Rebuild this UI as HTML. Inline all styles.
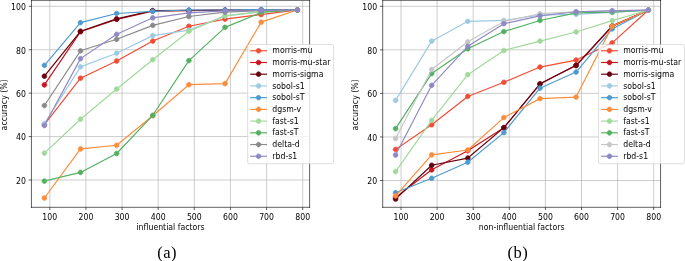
<!DOCTYPE html>
<html><head><meta charset="utf-8"><title>accuracy plots</title>
<style>
html,body{margin:0;padding:0;background:#fff;}
body{width:685px;height:261px;overflow:hidden;position:relative;}
svg{position:absolute;left:0;top:0;display:block;}
</style></head><body>
<svg width="685" height="261" viewBox="0 0 685 261" version="1.1">
<defs>
<style type="text/css">*{stroke-linejoin: round; stroke-linecap: butt}</style>
</defs>
<g id="figure_1">
<g id="patch_1">
<path d="M 0 261 L 685 261 L 685 0 L 0 0 z
" style="fill: #ffffff"/>
</g>
<g id="axes_1">
<g id="patch_2">
<path d="M 31.45 207.3 L 309.6 207.3 L 309.6 0.35 L 31.45 0.35 z
" style="fill: #ffffff"/>
</g>
<g id="matplotlib.axis_1">
<g id="xtick_1">
<g id="line2d_1">
<path d="M 49.8 207.3 L 49.8 0.35 " clip-path="url(#p76b166e8db)" style="fill: none; stroke: #b0b0b0; stroke-width: 0.624; stroke-linecap: square"/>
</g>
<g id="line2d_2">
<defs>
<path id="mf17a28b8bb" d="M 0 0 L 0 2.73 " style="stroke: #000000; stroke-width: 0.624"/>
</defs>
<g>
<use href="#mf17a28b8bb" x="49.8" y="207.3" style="stroke: #000000; stroke-width: 0.624"/>
</g>
</g>
<g id="text_1">
<text style="font-size: 7.8px; font-family: 'DejaVu Sans', 'Liberation Sans', sans-serif; text-anchor: middle" transform="translate(49.80 219.54) scale(1 1.1)">100</text>
</g>
</g>
<g id="xtick_2">
<g id="line2d_3">
<path d="M 85.928571 207.3 L 85.928571 0.35 " clip-path="url(#p76b166e8db)" style="fill: none; stroke: #b0b0b0; stroke-width: 0.624; stroke-linecap: square"/>
</g>
<g id="line2d_4">
<g>
<use href="#mf17a28b8bb" x="85.928571" y="207.3" style="stroke: #000000; stroke-width: 0.624"/>
</g>
</g>
<g id="text_2">
<text style="font-size: 7.8px; font-family: 'DejaVu Sans', 'Liberation Sans', sans-serif; text-anchor: middle" transform="translate(85.93 219.54) scale(1 1.1)">200</text>
</g>
</g>
<g id="xtick_3">
<g id="line2d_5">
<path d="M 122.057143 207.3 L 122.057143 0.35 " clip-path="url(#p76b166e8db)" style="fill: none; stroke: #b0b0b0; stroke-width: 0.624; stroke-linecap: square"/>
</g>
<g id="line2d_6">
<g>
<use href="#mf17a28b8bb" x="122.057143" y="207.3" style="stroke: #000000; stroke-width: 0.624"/>
</g>
</g>
<g id="text_3">
<text style="font-size: 7.8px; font-family: 'DejaVu Sans', 'Liberation Sans', sans-serif; text-anchor: middle" transform="translate(122.06 219.54) scale(1 1.1)">300</text>
</g>
</g>
<g id="xtick_4">
<g id="line2d_7">
<path d="M 158.185714 207.3 L 158.185714 0.35 " clip-path="url(#p76b166e8db)" style="fill: none; stroke: #b0b0b0; stroke-width: 0.624; stroke-linecap: square"/>
</g>
<g id="line2d_8">
<g>
<use href="#mf17a28b8bb" x="158.185714" y="207.3" style="stroke: #000000; stroke-width: 0.624"/>
</g>
</g>
<g id="text_4">
<text style="font-size: 7.8px; font-family: 'DejaVu Sans', 'Liberation Sans', sans-serif; text-anchor: middle" transform="translate(158.19 219.54) scale(1 1.1)">400</text>
</g>
</g>
<g id="xtick_5">
<g id="line2d_9">
<path d="M 194.314286 207.3 L 194.314286 0.35 " clip-path="url(#p76b166e8db)" style="fill: none; stroke: #b0b0b0; stroke-width: 0.624; stroke-linecap: square"/>
</g>
<g id="line2d_10">
<g>
<use href="#mf17a28b8bb" x="194.314286" y="207.3" style="stroke: #000000; stroke-width: 0.624"/>
</g>
</g>
<g id="text_5">
<text style="font-size: 7.8px; font-family: 'DejaVu Sans', 'Liberation Sans', sans-serif; text-anchor: middle" transform="translate(194.31 219.54) scale(1 1.1)">500</text>
</g>
</g>
<g id="xtick_6">
<g id="line2d_11">
<path d="M 230.442857 207.3 L 230.442857 0.35 " clip-path="url(#p76b166e8db)" style="fill: none; stroke: #b0b0b0; stroke-width: 0.624; stroke-linecap: square"/>
</g>
<g id="line2d_12">
<g>
<use href="#mf17a28b8bb" x="230.442857" y="207.3" style="stroke: #000000; stroke-width: 0.624"/>
</g>
</g>
<g id="text_6">
<text style="font-size: 7.8px; font-family: 'DejaVu Sans', 'Liberation Sans', sans-serif; text-anchor: middle" transform="translate(230.44 219.54) scale(1 1.1)">600</text>
</g>
</g>
<g id="xtick_7">
<g id="line2d_13">
<path d="M 266.571429 207.3 L 266.571429 0.35 " clip-path="url(#p76b166e8db)" style="fill: none; stroke: #b0b0b0; stroke-width: 0.624; stroke-linecap: square"/>
</g>
<g id="line2d_14">
<g>
<use href="#mf17a28b8bb" x="266.571429" y="207.3" style="stroke: #000000; stroke-width: 0.624"/>
</g>
</g>
<g id="text_7">
<text style="font-size: 7.8px; font-family: 'DejaVu Sans', 'Liberation Sans', sans-serif; text-anchor: middle" transform="translate(266.57 219.54) scale(1 1.1)">700</text>
</g>
</g>
<g id="xtick_8">
<g id="line2d_15">
<path d="M 302.7 207.3 L 302.7 0.35 " clip-path="url(#p76b166e8db)" style="fill: none; stroke: #b0b0b0; stroke-width: 0.624; stroke-linecap: square"/>
</g>
<g id="line2d_16">
<g>
<use href="#mf17a28b8bb" x="302.7" y="207.3" style="stroke: #000000; stroke-width: 0.624"/>
</g>
</g>
<g id="text_8">
<text style="font-size: 7.8px; font-family: 'DejaVu Sans', 'Liberation Sans', sans-serif; text-anchor: middle" transform="translate(302.70 219.54) scale(1 1.1)">800</text>
</g>
</g>
<g id="text_9">
<text style="font-size: 7.8px; font-family: 'DejaVu Sans', 'Liberation Sans', sans-serif; text-anchor: middle" transform="translate(170.53 230.21) scale(1 1.1)">influential factors</text>
</g>
</g>
<g id="matplotlib.axis_2">
<g id="ytick_1">
<g id="line2d_17">
<path d="M 31.45 180 L 309.6 180 " clip-path="url(#p76b166e8db)" style="fill: none; stroke: #b0b0b0; stroke-width: 0.624; stroke-linecap: square"/>
</g>
<g id="line2d_18">
<defs>
<path id="m06048b6196" d="M 0 0 L -2.73 0 " style="stroke: #000000; stroke-width: 0.624"/>
</defs>
<g>
<use href="#m06048b6196" x="31.45" y="180" style="stroke: #000000; stroke-width: 0.624"/>
</g>
</g>
<g id="text_10">
<text style="font-size: 7.8px; font-family: 'DejaVu Sans', 'Liberation Sans', sans-serif; text-anchor: end" transform="translate(25.99 183.81) scale(1 1.1)">20</text>
</g>
</g>
<g id="ytick_2">
<g id="line2d_19">
<path d="M 31.45 136.575 L 309.6 136.575 " clip-path="url(#p76b166e8db)" style="fill: none; stroke: #b0b0b0; stroke-width: 0.624; stroke-linecap: square"/>
</g>
<g id="line2d_20">
<g>
<use href="#m06048b6196" x="31.45" y="136.575" style="stroke: #000000; stroke-width: 0.624"/>
</g>
</g>
<g id="text_11">
<text style="font-size: 7.8px; font-family: 'DejaVu Sans', 'Liberation Sans', sans-serif; text-anchor: end" transform="translate(25.99 140.39) scale(1 1.1)">40</text>
</g>
</g>
<g id="ytick_3">
<g id="line2d_21">
<path d="M 31.45 93.15 L 309.6 93.15 " clip-path="url(#p76b166e8db)" style="fill: none; stroke: #b0b0b0; stroke-width: 0.624; stroke-linecap: square"/>
</g>
<g id="line2d_22">
<g>
<use href="#m06048b6196" x="31.45" y="93.15" style="stroke: #000000; stroke-width: 0.624"/>
</g>
</g>
<g id="text_12">
<text style="font-size: 7.8px; font-family: 'DejaVu Sans', 'Liberation Sans', sans-serif; text-anchor: end" transform="translate(25.99 96.96) scale(1 1.1)">60</text>
</g>
</g>
<g id="ytick_4">
<g id="line2d_23">
<path d="M 31.45 49.725 L 309.6 49.725 " clip-path="url(#p76b166e8db)" style="fill: none; stroke: #b0b0b0; stroke-width: 0.624; stroke-linecap: square"/>
</g>
<g id="line2d_24">
<g>
<use href="#m06048b6196" x="31.45" y="49.725" style="stroke: #000000; stroke-width: 0.624"/>
</g>
</g>
<g id="text_13">
<text style="font-size: 7.8px; font-family: 'DejaVu Sans', 'Liberation Sans', sans-serif; text-anchor: end" transform="translate(25.99 53.54) scale(1 1.1)">80</text>
</g>
</g>
<g id="ytick_5">
<g id="line2d_25">
<path d="M 31.45 6.3 L 309.6 6.3 " clip-path="url(#p76b166e8db)" style="fill: none; stroke: #b0b0b0; stroke-width: 0.624; stroke-linecap: square"/>
</g>
<g id="line2d_26">
<g>
<use href="#m06048b6196" x="31.45" y="6.3" style="stroke: #000000; stroke-width: 0.624"/>
</g>
</g>
<g id="text_14">
<text style="font-size: 7.8px; font-family: 'DejaVu Sans', 'Liberation Sans', sans-serif; text-anchor: end" transform="translate(25.99 10.11) scale(1 1.1)">100</text>
</g>
</g>
<g id="text_15">
<text style="font-size: 7.8px; font-family: 'DejaVu Sans', 'Liberation Sans', sans-serif; text-anchor: middle" transform="translate(6.86 104.83) rotate(-90) scale(1 1.1)">accuracy (%)</text>
</g>
</g>
<g id="line2d_27">
<path d="M 44.380714 124.633125 L 80.509286 78.168375 L 116.637857 61.0155 L 152.766429 41.04 L 188.895 26.2755 L 225.023571 19.110375 L 261.152143 14.55075 L 297.280714 9.991125 " clip-path="url(#p76b166e8db)" style="fill: none; stroke: #f34c36; stroke-width: 1.17; stroke-linecap: square"/>
<defs>
<path id="mfd70a485a8" d="M 0 2.34 C 0.620575 2.34 1.215817 2.093443 1.65463 1.65463 C 2.093443 1.215817 2.34 0.620575 2.34 0 C 2.34 -0.620575 2.093443 -1.215817 1.65463 -1.65463 C 1.215817 -2.093443 0.620575 -2.34 0 -2.34 C -0.620575 -2.34 -1.215817 -2.093443 -1.65463 -1.65463 C -2.093443 -1.215817 -2.34 -0.620575 -2.34 0 C -2.34 0.620575 -2.093443 1.215817 -1.65463 1.65463 C -1.215817 2.093443 -0.620575 2.34 0 2.34 z
" style="stroke: #f34c36; stroke-width: 0.78"/>
</defs>
<g clip-path="url(#p76b166e8db)">
<use href="#mfd70a485a8" x="44.380714" y="124.633125" style="fill: #f34c36; stroke: #f34c36; stroke-width: 0.78"/>
<use href="#mfd70a485a8" x="80.509286" y="78.168375" style="fill: #f34c36; stroke: #f34c36; stroke-width: 0.78"/>
<use href="#mfd70a485a8" x="116.637857" y="61.0155" style="fill: #f34c36; stroke: #f34c36; stroke-width: 0.78"/>
<use href="#mfd70a485a8" x="152.766429" y="41.04" style="fill: #f34c36; stroke: #f34c36; stroke-width: 0.78"/>
<use href="#mfd70a485a8" x="188.895" y="26.2755" style="fill: #f34c36; stroke: #f34c36; stroke-width: 0.78"/>
<use href="#mfd70a485a8" x="225.023571" y="19.110375" style="fill: #f34c36; stroke: #f34c36; stroke-width: 0.78"/>
<use href="#mfd70a485a8" x="261.152143" y="14.55075" style="fill: #f34c36; stroke: #f34c36; stroke-width: 0.78"/>
<use href="#mfd70a485a8" x="297.280714" y="9.991125" style="fill: #f34c36; stroke: #f34c36; stroke-width: 0.78"/>
</g>
</g>
<g id="line2d_28">
<path d="M 44.380714 84.89925 L 80.509286 31.703625 L 116.637857 19.3275 L 152.766429 11.07675 L 188.895 10.6425 L 225.023571 10.20825 L 261.152143 9.991125 L 297.280714 9.991125 " clip-path="url(#p76b166e8db)" style="fill: none; stroke: #c8151e; stroke-width: 1.17; stroke-linecap: square"/>
<defs>
<path id="m19177e68ee" d="M 0 2.34 C 0.620575 2.34 1.215817 2.093443 1.65463 1.65463 C 2.093443 1.215817 2.34 0.620575 2.34 0 C 2.34 -0.620575 2.093443 -1.215817 1.65463 -1.65463 C 1.215817 -2.093443 0.620575 -2.34 0 -2.34 C -0.620575 -2.34 -1.215817 -2.093443 -1.65463 -1.65463 C -2.093443 -1.215817 -2.34 -0.620575 -2.34 0 C -2.34 0.620575 -2.093443 1.215817 -1.65463 1.65463 C -1.215817 2.093443 -0.620575 2.34 0 2.34 z
" style="stroke: #c8151e; stroke-width: 0.78"/>
</defs>
<g clip-path="url(#p76b166e8db)">
<use href="#m19177e68ee" x="44.380714" y="84.89925" style="fill: #c8151e; stroke: #c8151e; stroke-width: 0.78"/>
<use href="#m19177e68ee" x="80.509286" y="31.703625" style="fill: #c8151e; stroke: #c8151e; stroke-width: 0.78"/>
<use href="#m19177e68ee" x="116.637857" y="19.3275" style="fill: #c8151e; stroke: #c8151e; stroke-width: 0.78"/>
<use href="#m19177e68ee" x="152.766429" y="11.07675" style="fill: #c8151e; stroke: #c8151e; stroke-width: 0.78"/>
<use href="#m19177e68ee" x="188.895" y="10.6425" style="fill: #c8151e; stroke: #c8151e; stroke-width: 0.78"/>
<use href="#m19177e68ee" x="225.023571" y="10.20825" style="fill: #c8151e; stroke: #c8151e; stroke-width: 0.78"/>
<use href="#m19177e68ee" x="261.152143" y="9.991125" style="fill: #c8151e; stroke: #c8151e; stroke-width: 0.78"/>
<use href="#m19177e68ee" x="297.280714" y="9.991125" style="fill: #c8151e; stroke: #c8151e; stroke-width: 0.78"/>
</g>
</g>
<g id="line2d_29">
<path d="M 44.380714 76.21425 L 80.509286 31.269375 L 116.637857 18.89325 L 152.766429 10.6425 L 188.895 10.425375 L 225.023571 10.20825 L 261.152143 9.991125 L 297.280714 9.991125 " clip-path="url(#p76b166e8db)" style="fill: none; stroke: #67000d; stroke-width: 1.17; stroke-linecap: square"/>
<defs>
<path id="m08d0aabdd7" d="M 0 2.34 C 0.620575 2.34 1.215817 2.093443 1.65463 1.65463 C 2.093443 1.215817 2.34 0.620575 2.34 0 C 2.34 -0.620575 2.093443 -1.215817 1.65463 -1.65463 C 1.215817 -2.093443 0.620575 -2.34 0 -2.34 C -0.620575 -2.34 -1.215817 -2.093443 -1.65463 -1.65463 C -2.093443 -1.215817 -2.34 -0.620575 -2.34 0 C -2.34 0.620575 -2.093443 1.215817 -1.65463 1.65463 C -1.215817 2.093443 -0.620575 2.34 0 2.34 z
" style="stroke: #67000d; stroke-width: 0.78"/>
</defs>
<g clip-path="url(#p76b166e8db)">
<use href="#m08d0aabdd7" x="44.380714" y="76.21425" style="fill: #67000d; stroke: #67000d; stroke-width: 0.78"/>
<use href="#m08d0aabdd7" x="80.509286" y="31.269375" style="fill: #67000d; stroke: #67000d; stroke-width: 0.78"/>
<use href="#m08d0aabdd7" x="116.637857" y="18.89325" style="fill: #67000d; stroke: #67000d; stroke-width: 0.78"/>
<use href="#m08d0aabdd7" x="152.766429" y="10.6425" style="fill: #67000d; stroke: #67000d; stroke-width: 0.78"/>
<use href="#m08d0aabdd7" x="188.895" y="10.425375" style="fill: #67000d; stroke: #67000d; stroke-width: 0.78"/>
<use href="#m08d0aabdd7" x="225.023571" y="10.20825" style="fill: #67000d; stroke: #67000d; stroke-width: 0.78"/>
<use href="#m08d0aabdd7" x="261.152143" y="9.991125" style="fill: #67000d; stroke: #67000d; stroke-width: 0.78"/>
<use href="#m08d0aabdd7" x="297.280714" y="9.991125" style="fill: #67000d; stroke: #67000d; stroke-width: 0.78"/>
</g>
</g>
<g id="line2d_30">
<path d="M 44.380714 123.5475 L 80.509286 66.877875 L 116.637857 53.199 L 152.766429 35.611875 L 188.895 30.18375 L 225.023571 15.8535 L 261.152143 11.728125 L 297.280714 9.991125 " clip-path="url(#p76b166e8db)" style="fill: none; stroke: #9ecae1; stroke-width: 1.17; stroke-linecap: square"/>
<defs>
<path id="md240ce2daa" d="M 0 2.34 C 0.620575 2.34 1.215817 2.093443 1.65463 1.65463 C 2.093443 1.215817 2.34 0.620575 2.34 0 C 2.34 -0.620575 2.093443 -1.215817 1.65463 -1.65463 C 1.215817 -2.093443 0.620575 -2.34 0 -2.34 C -0.620575 -2.34 -1.215817 -2.093443 -1.65463 -1.65463 C -2.093443 -1.215817 -2.34 -0.620575 -2.34 0 C -2.34 0.620575 -2.093443 1.215817 -1.65463 1.65463 C -1.215817 2.093443 -0.620575 2.34 0 2.34 z
" style="stroke: #9ecae1; stroke-width: 0.78"/>
</defs>
<g clip-path="url(#p76b166e8db)">
<use href="#md240ce2daa" x="44.380714" y="123.5475" style="fill: #9ecae1; stroke: #9ecae1; stroke-width: 0.78"/>
<use href="#md240ce2daa" x="80.509286" y="66.877875" style="fill: #9ecae1; stroke: #9ecae1; stroke-width: 0.78"/>
<use href="#md240ce2daa" x="116.637857" y="53.199" style="fill: #9ecae1; stroke: #9ecae1; stroke-width: 0.78"/>
<use href="#md240ce2daa" x="152.766429" y="35.611875" style="fill: #9ecae1; stroke: #9ecae1; stroke-width: 0.78"/>
<use href="#md240ce2daa" x="188.895" y="30.18375" style="fill: #9ecae1; stroke: #9ecae1; stroke-width: 0.78"/>
<use href="#md240ce2daa" x="225.023571" y="15.8535" style="fill: #9ecae1; stroke: #9ecae1; stroke-width: 0.78"/>
<use href="#md240ce2daa" x="261.152143" y="11.728125" style="fill: #9ecae1; stroke: #9ecae1; stroke-width: 0.78"/>
<use href="#md240ce2daa" x="297.280714" y="9.991125" style="fill: #9ecae1; stroke: #9ecae1; stroke-width: 0.78"/>
</g>
</g>
<g id="line2d_31">
<path d="M 44.380714 65.358 L 80.509286 22.584375 L 116.637857 13.465125 L 152.766429 11.293875 L 188.895 9.991125 L 225.023571 9.991125 L 261.152143 9.556875 L 297.280714 9.991125 " clip-path="url(#p76b166e8db)" style="fill: none; stroke: #4f9bcf; stroke-width: 1.17; stroke-linecap: square"/>
<defs>
<path id="mb4e35021ed" d="M 0 2.34 C 0.620575 2.34 1.215817 2.093443 1.65463 1.65463 C 2.093443 1.215817 2.34 0.620575 2.34 0 C 2.34 -0.620575 2.093443 -1.215817 1.65463 -1.65463 C 1.215817 -2.093443 0.620575 -2.34 0 -2.34 C -0.620575 -2.34 -1.215817 -2.093443 -1.65463 -1.65463 C -2.093443 -1.215817 -2.34 -0.620575 -2.34 0 C -2.34 0.620575 -2.093443 1.215817 -1.65463 1.65463 C -1.215817 2.093443 -0.620575 2.34 0 2.34 z
" style="stroke: #4f9bcf; stroke-width: 0.78"/>
</defs>
<g clip-path="url(#p76b166e8db)">
<use href="#mb4e35021ed" x="44.380714" y="65.358" style="fill: #4f9bcf; stroke: #4f9bcf; stroke-width: 0.78"/>
<use href="#mb4e35021ed" x="80.509286" y="22.584375" style="fill: #4f9bcf; stroke: #4f9bcf; stroke-width: 0.78"/>
<use href="#mb4e35021ed" x="116.637857" y="13.465125" style="fill: #4f9bcf; stroke: #4f9bcf; stroke-width: 0.78"/>
<use href="#mb4e35021ed" x="152.766429" y="11.293875" style="fill: #4f9bcf; stroke: #4f9bcf; stroke-width: 0.78"/>
<use href="#mb4e35021ed" x="188.895" y="9.991125" style="fill: #4f9bcf; stroke: #4f9bcf; stroke-width: 0.78"/>
<use href="#mb4e35021ed" x="225.023571" y="9.991125" style="fill: #4f9bcf; stroke: #4f9bcf; stroke-width: 0.78"/>
<use href="#mb4e35021ed" x="261.152143" y="9.556875" style="fill: #4f9bcf; stroke: #4f9bcf; stroke-width: 0.78"/>
<use href="#mb4e35021ed" x="297.280714" y="9.991125" style="fill: #4f9bcf; stroke: #4f9bcf; stroke-width: 0.78"/>
</g>
</g>
<g id="line2d_32">
<path d="M 44.380714 198.021375 L 80.509286 148.951125 L 116.637857 145.26 L 152.766429 115.731 L 188.895 84.682125 L 225.023571 83.5965 L 261.152143 22.150125 L 297.280714 9.991125 " clip-path="url(#p76b166e8db)" style="fill: none; stroke: #fd8d3c; stroke-width: 1.17; stroke-linecap: square"/>
<defs>
<path id="m84660bfa3b" d="M 0 2.34 C 0.620575 2.34 1.215817 2.093443 1.65463 1.65463 C 2.093443 1.215817 2.34 0.620575 2.34 0 C 2.34 -0.620575 2.093443 -1.215817 1.65463 -1.65463 C 1.215817 -2.093443 0.620575 -2.34 0 -2.34 C -0.620575 -2.34 -1.215817 -2.093443 -1.65463 -1.65463 C -2.093443 -1.215817 -2.34 -0.620575 -2.34 0 C -2.34 0.620575 -2.093443 1.215817 -1.65463 1.65463 C -1.215817 2.093443 -0.620575 2.34 0 2.34 z
" style="stroke: #fd8d3c; stroke-width: 0.78"/>
</defs>
<g clip-path="url(#p76b166e8db)">
<use href="#m84660bfa3b" x="44.380714" y="198.021375" style="fill: #fd8d3c; stroke: #fd8d3c; stroke-width: 0.78"/>
<use href="#m84660bfa3b" x="80.509286" y="148.951125" style="fill: #fd8d3c; stroke: #fd8d3c; stroke-width: 0.78"/>
<use href="#m84660bfa3b" x="116.637857" y="145.26" style="fill: #fd8d3c; stroke: #fd8d3c; stroke-width: 0.78"/>
<use href="#m84660bfa3b" x="152.766429" y="115.731" style="fill: #fd8d3c; stroke: #fd8d3c; stroke-width: 0.78"/>
<use href="#m84660bfa3b" x="188.895" y="84.682125" style="fill: #fd8d3c; stroke: #fd8d3c; stroke-width: 0.78"/>
<use href="#m84660bfa3b" x="225.023571" y="83.5965" style="fill: #fd8d3c; stroke: #fd8d3c; stroke-width: 0.78"/>
<use href="#m84660bfa3b" x="261.152143" y="22.150125" style="fill: #fd8d3c; stroke: #fd8d3c; stroke-width: 0.78"/>
<use href="#m84660bfa3b" x="297.280714" y="9.991125" style="fill: #fd8d3c; stroke: #fd8d3c; stroke-width: 0.78"/>
</g>
</g>
<g id="line2d_33">
<path d="M 44.380714 153.0765 L 80.509286 119.205 L 116.637857 89.024625 L 152.766429 59.71275 L 188.895 31.269375 L 225.023571 15.8535 L 261.152143 11.728125 L 297.280714 9.991125 " clip-path="url(#p76b166e8db)" style="fill: none; stroke: #a1d99b; stroke-width: 1.17; stroke-linecap: square"/>
<defs>
<path id="m37b35b74b8" d="M 0 2.34 C 0.620575 2.34 1.215817 2.093443 1.65463 1.65463 C 2.093443 1.215817 2.34 0.620575 2.34 0 C 2.34 -0.620575 2.093443 -1.215817 1.65463 -1.65463 C 1.215817 -2.093443 0.620575 -2.34 0 -2.34 C -0.620575 -2.34 -1.215817 -2.093443 -1.65463 -1.65463 C -2.093443 -1.215817 -2.34 -0.620575 -2.34 0 C -2.34 0.620575 -2.093443 1.215817 -1.65463 1.65463 C -1.215817 2.093443 -0.620575 2.34 0 2.34 z
" style="stroke: #a1d99b; stroke-width: 0.78"/>
</defs>
<g clip-path="url(#p76b166e8db)">
<use href="#m37b35b74b8" x="44.380714" y="153.0765" style="fill: #a1d99b; stroke: #a1d99b; stroke-width: 0.78"/>
<use href="#m37b35b74b8" x="80.509286" y="119.205" style="fill: #a1d99b; stroke: #a1d99b; stroke-width: 0.78"/>
<use href="#m37b35b74b8" x="116.637857" y="89.024625" style="fill: #a1d99b; stroke: #a1d99b; stroke-width: 0.78"/>
<use href="#m37b35b74b8" x="152.766429" y="59.71275" style="fill: #a1d99b; stroke: #a1d99b; stroke-width: 0.78"/>
<use href="#m37b35b74b8" x="188.895" y="31.269375" style="fill: #a1d99b; stroke: #a1d99b; stroke-width: 0.78"/>
<use href="#m37b35b74b8" x="225.023571" y="15.8535" style="fill: #a1d99b; stroke: #a1d99b; stroke-width: 0.78"/>
<use href="#m37b35b74b8" x="261.152143" y="11.728125" style="fill: #a1d99b; stroke: #a1d99b; stroke-width: 0.78"/>
<use href="#m37b35b74b8" x="297.280714" y="9.991125" style="fill: #a1d99b; stroke: #a1d99b; stroke-width: 0.78"/>
</g>
</g>
<g id="line2d_34">
<path d="M 44.380714 181.085625 L 80.509286 172.400625 L 116.637857 153.51075 L 152.766429 115.29675 L 188.895 60.58125 L 225.023571 27.361125 L 261.152143 12.3795 L 297.280714 9.991125 " clip-path="url(#p76b166e8db)" style="fill: none; stroke: #52b161; stroke-width: 1.17; stroke-linecap: square"/>
<defs>
<path id="ma4fa406c6f" d="M 0 2.34 C 0.620575 2.34 1.215817 2.093443 1.65463 1.65463 C 2.093443 1.215817 2.34 0.620575 2.34 0 C 2.34 -0.620575 2.093443 -1.215817 1.65463 -1.65463 C 1.215817 -2.093443 0.620575 -2.34 0 -2.34 C -0.620575 -2.34 -1.215817 -2.093443 -1.65463 -1.65463 C -2.093443 -1.215817 -2.34 -0.620575 -2.34 0 C -2.34 0.620575 -2.093443 1.215817 -1.65463 1.65463 C -1.215817 2.093443 -0.620575 2.34 0 2.34 z
" style="stroke: #52b161; stroke-width: 0.78"/>
</defs>
<g clip-path="url(#p76b166e8db)">
<use href="#ma4fa406c6f" x="44.380714" y="181.085625" style="fill: #52b161; stroke: #52b161; stroke-width: 0.78"/>
<use href="#ma4fa406c6f" x="80.509286" y="172.400625" style="fill: #52b161; stroke: #52b161; stroke-width: 0.78"/>
<use href="#ma4fa406c6f" x="116.637857" y="153.51075" style="fill: #52b161; stroke: #52b161; stroke-width: 0.78"/>
<use href="#ma4fa406c6f" x="152.766429" y="115.29675" style="fill: #52b161; stroke: #52b161; stroke-width: 0.78"/>
<use href="#ma4fa406c6f" x="188.895" y="60.58125" style="fill: #52b161; stroke: #52b161; stroke-width: 0.78"/>
<use href="#ma4fa406c6f" x="225.023571" y="27.361125" style="fill: #52b161; stroke: #52b161; stroke-width: 0.78"/>
<use href="#ma4fa406c6f" x="261.152143" y="12.3795" style="fill: #52b161; stroke: #52b161; stroke-width: 0.78"/>
<use href="#ma4fa406c6f" x="297.280714" y="9.991125" style="fill: #52b161; stroke: #52b161; stroke-width: 0.78"/>
</g>
</g>
<g id="line2d_35">
<path d="M 44.380714 105.526125 L 80.509286 50.810625 L 116.637857 39.303 L 152.766429 25.407 L 188.895 16.504875 L 225.023571 12.162375 L 261.152143 10.6425 L 297.280714 9.991125 " clip-path="url(#p76b166e8db)" style="fill: none; stroke: #8a8a8a; stroke-width: 1.17; stroke-linecap: square"/>
<defs>
<path id="m84ad9e8525" d="M 0 2.34 C 0.620575 2.34 1.215817 2.093443 1.65463 1.65463 C 2.093443 1.215817 2.34 0.620575 2.34 0 C 2.34 -0.620575 2.093443 -1.215817 1.65463 -1.65463 C 1.215817 -2.093443 0.620575 -2.34 0 -2.34 C -0.620575 -2.34 -1.215817 -2.093443 -1.65463 -1.65463 C -2.093443 -1.215817 -2.34 -0.620575 -2.34 0 C -2.34 0.620575 -2.093443 1.215817 -1.65463 1.65463 C -1.215817 2.093443 -0.620575 2.34 0 2.34 z
" style="stroke: #8a8a8a; stroke-width: 0.78"/>
</defs>
<g clip-path="url(#p76b166e8db)">
<use href="#m84ad9e8525" x="44.380714" y="105.526125" style="fill: #8a8a8a; stroke: #8a8a8a; stroke-width: 0.78"/>
<use href="#m84ad9e8525" x="80.509286" y="50.810625" style="fill: #8a8a8a; stroke: #8a8a8a; stroke-width: 0.78"/>
<use href="#m84ad9e8525" x="116.637857" y="39.303" style="fill: #8a8a8a; stroke: #8a8a8a; stroke-width: 0.78"/>
<use href="#m84ad9e8525" x="152.766429" y="25.407" style="fill: #8a8a8a; stroke: #8a8a8a; stroke-width: 0.78"/>
<use href="#m84ad9e8525" x="188.895" y="16.504875" style="fill: #8a8a8a; stroke: #8a8a8a; stroke-width: 0.78"/>
<use href="#m84ad9e8525" x="225.023571" y="12.162375" style="fill: #8a8a8a; stroke: #8a8a8a; stroke-width: 0.78"/>
<use href="#m84ad9e8525" x="261.152143" y="10.6425" style="fill: #8a8a8a; stroke: #8a8a8a; stroke-width: 0.78"/>
<use href="#m84ad9e8525" x="297.280714" y="9.991125" style="fill: #8a8a8a; stroke: #8a8a8a; stroke-width: 0.78"/>
</g>
</g>
<g id="line2d_36">
<path d="M 44.380714 125.501625 L 80.509286 58.627125 L 116.637857 34.309125 L 152.766429 17.807625 L 188.895 12.81375 L 225.023571 10.859625 L 261.152143 10.425375 L 297.280714 9.991125 " clip-path="url(#p76b166e8db)" style="fill: none; stroke: #8e89c4; stroke-width: 1.17; stroke-linecap: square"/>
<defs>
<path id="md699ed63c8" d="M 0 2.34 C 0.620575 2.34 1.215817 2.093443 1.65463 1.65463 C 2.093443 1.215817 2.34 0.620575 2.34 0 C 2.34 -0.620575 2.093443 -1.215817 1.65463 -1.65463 C 1.215817 -2.093443 0.620575 -2.34 0 -2.34 C -0.620575 -2.34 -1.215817 -2.093443 -1.65463 -1.65463 C -2.093443 -1.215817 -2.34 -0.620575 -2.34 0 C -2.34 0.620575 -2.093443 1.215817 -1.65463 1.65463 C -1.215817 2.093443 -0.620575 2.34 0 2.34 z
" style="stroke: #8e89c4; stroke-width: 0.78"/>
</defs>
<g clip-path="url(#p76b166e8db)">
<use href="#md699ed63c8" x="44.380714" y="125.501625" style="fill: #8e89c4; stroke: #8e89c4; stroke-width: 0.78"/>
<use href="#md699ed63c8" x="80.509286" y="58.627125" style="fill: #8e89c4; stroke: #8e89c4; stroke-width: 0.78"/>
<use href="#md699ed63c8" x="116.637857" y="34.309125" style="fill: #8e89c4; stroke: #8e89c4; stroke-width: 0.78"/>
<use href="#md699ed63c8" x="152.766429" y="17.807625" style="fill: #8e89c4; stroke: #8e89c4; stroke-width: 0.78"/>
<use href="#md699ed63c8" x="188.895" y="12.81375" style="fill: #8e89c4; stroke: #8e89c4; stroke-width: 0.78"/>
<use href="#md699ed63c8" x="225.023571" y="10.859625" style="fill: #8e89c4; stroke: #8e89c4; stroke-width: 0.78"/>
<use href="#md699ed63c8" x="261.152143" y="10.425375" style="fill: #8e89c4; stroke: #8e89c4; stroke-width: 0.78"/>
<use href="#md699ed63c8" x="297.280714" y="9.991125" style="fill: #8e89c4; stroke: #8e89c4; stroke-width: 0.78"/>
</g>
</g>
<g id="patch_3">
<path d="M 31.45 207.3 L 31.45 0.35 " style="fill: none; stroke: #000000; stroke-width: 0.624; stroke-linejoin: miter; stroke-linecap: square"/>
</g>
<g id="patch_4">
<path d="M 309.6 207.3 L 309.6 0.35 " style="fill: none; stroke: #000000; stroke-width: 0.624; stroke-linejoin: miter; stroke-linecap: square"/>
</g>
<g id="patch_5">
<path d="M 31.45 207.3 L 309.6 207.3 " style="fill: none; stroke: #000000; stroke-width: 0.624; stroke-linejoin: miter; stroke-linecap: square"/>
</g>
<g id="patch_6">
<path d="M 31.45 0.35 L 309.6 0.35 " style="fill: none; stroke: #000000; stroke-width: 0.624; stroke-linejoin: miter; stroke-linecap: square"/>
</g>
<g id="legend_1">
<g id="patch_7">
<path d="M 249.21 163.736375 L 332.011875 163.736375 Q 333.571875 163.736375 333.571875 162.176375 L 333.571875 46.01 Q 333.571875 44.45 332.011875 44.45 L 249.21 44.45 Q 247.65 44.45 247.65 46.01 L 247.65 162.176375 Q 247.65 163.736375 249.21 163.736375 z
" style="fill: #ffffff; opacity: 0.8; stroke: #cccccc; stroke-width: 0.78; stroke-linejoin: miter"/>
</g>
<g id="line2d_37">
<path d="M 250.77 50.766781 L 258.57 50.766781 L 266.37 50.766781 " style="fill: none; stroke: #f34c36; stroke-width: 1.17; stroke-linecap: square"/>
<g>
<use href="#mfd70a485a8" x="258.57" y="50.766781" style="fill: #f34c36; stroke: #f34c36; stroke-width: 0.78"/>
</g>
</g>
<g id="text_16">
<text style="font-size: 7.8px; font-family: 'DejaVu Sans', 'Liberation Sans', sans-serif; text-anchor: start" transform="translate(272.30 53.40) scale(1 1.1)">morris-mu</text>
</g>
<g id="line2d_38">
<path d="M 250.77 62.488719 L 258.57 62.488719 L 266.37 62.488719 " style="fill: none; stroke: #c8151e; stroke-width: 1.17; stroke-linecap: square"/>
<g>
<use href="#m19177e68ee" x="258.57" y="62.488719" style="fill: #c8151e; stroke: #c8151e; stroke-width: 0.78"/>
</g>
</g>
<g id="text_17">
<text style="font-size: 7.8px; font-family: 'DejaVu Sans', 'Liberation Sans', sans-serif; text-anchor: start" transform="translate(272.30 65.12) scale(1 1.1)">morris-mu-star</text>
</g>
<g id="line2d_39">
<path d="M 250.77 74.210656 L 258.57 74.210656 L 266.37 74.210656 " style="fill: none; stroke: #67000d; stroke-width: 1.17; stroke-linecap: square"/>
<g>
<use href="#m08d0aabdd7" x="258.57" y="74.210656" style="fill: #67000d; stroke: #67000d; stroke-width: 0.78"/>
</g>
</g>
<g id="text_18">
<text style="font-size: 7.8px; font-family: 'DejaVu Sans', 'Liberation Sans', sans-serif; text-anchor: start" transform="translate(272.30 76.84) scale(1 1.1)">morris-sigma</text>
</g>
<g id="line2d_40">
<path d="M 250.77 85.932594 L 258.57 85.932594 L 266.37 85.932594 " style="fill: none; stroke: #9ecae1; stroke-width: 1.17; stroke-linecap: square"/>
<g>
<use href="#md240ce2daa" x="258.57" y="85.932594" style="fill: #9ecae1; stroke: #9ecae1; stroke-width: 0.78"/>
</g>
</g>
<g id="text_19">
<text style="font-size: 7.8px; font-family: 'DejaVu Sans', 'Liberation Sans', sans-serif; text-anchor: start" transform="translate(272.30 88.56) scale(1 1.1)">sobol-s1</text>
</g>
<g id="line2d_41">
<path d="M 250.77 97.654531 L 258.57 97.654531 L 266.37 97.654531 " style="fill: none; stroke: #4f9bcf; stroke-width: 1.17; stroke-linecap: square"/>
<g>
<use href="#mb4e35021ed" x="258.57" y="97.654531" style="fill: #4f9bcf; stroke: #4f9bcf; stroke-width: 0.78"/>
</g>
</g>
<g id="text_20">
<text style="font-size: 7.8px; font-family: 'DejaVu Sans', 'Liberation Sans', sans-serif; text-anchor: start" transform="translate(272.30 100.28) scale(1 1.1)">sobol-sT</text>
</g>
<g id="line2d_42">
<path d="M 250.77 109.376469 L 258.57 109.376469 L 266.37 109.376469 " style="fill: none; stroke: #fd8d3c; stroke-width: 1.17; stroke-linecap: square"/>
<g>
<use href="#m84660bfa3b" x="258.57" y="109.376469" style="fill: #fd8d3c; stroke: #fd8d3c; stroke-width: 0.78"/>
</g>
</g>
<g id="text_21">
<text style="font-size: 7.8px; font-family: 'DejaVu Sans', 'Liberation Sans', sans-serif; text-anchor: start" transform="translate(272.30 112.01) scale(1 1.1)">dgsm-v</text>
</g>
<g id="line2d_43">
<path d="M 250.77 121.098406 L 258.57 121.098406 L 266.37 121.098406 " style="fill: none; stroke: #a1d99b; stroke-width: 1.17; stroke-linecap: square"/>
<g>
<use href="#m37b35b74b8" x="258.57" y="121.098406" style="fill: #a1d99b; stroke: #a1d99b; stroke-width: 0.78"/>
</g>
</g>
<g id="text_22">
<text style="font-size: 7.8px; font-family: 'DejaVu Sans', 'Liberation Sans', sans-serif; text-anchor: start" transform="translate(272.30 123.73) scale(1 1.1)">fast-s1</text>
</g>
<g id="line2d_44">
<path d="M 250.77 132.820344 L 258.57 132.820344 L 266.37 132.820344 " style="fill: none; stroke: #52b161; stroke-width: 1.17; stroke-linecap: square"/>
<g>
<use href="#ma4fa406c6f" x="258.57" y="132.820344" style="fill: #52b161; stroke: #52b161; stroke-width: 0.78"/>
</g>
</g>
<g id="text_23">
<text style="font-size: 7.8px; font-family: 'DejaVu Sans', 'Liberation Sans', sans-serif; text-anchor: start" transform="translate(272.30 135.45) scale(1 1.1)">fast-sT</text>
</g>
<g id="line2d_45">
<path d="M 250.77 144.542281 L 258.57 144.542281 L 266.37 144.542281 " style="fill: none; stroke: #8a8a8a; stroke-width: 1.17; stroke-linecap: square"/>
<g>
<use href="#m84ad9e8525" x="258.57" y="144.542281" style="fill: #8a8a8a; stroke: #8a8a8a; stroke-width: 0.78"/>
</g>
</g>
<g id="text_24">
<text style="font-size: 7.8px; font-family: 'DejaVu Sans', 'Liberation Sans', sans-serif; text-anchor: start" transform="translate(272.30 147.17) scale(1 1.1)">delta-d</text>
</g>
<g id="line2d_46">
<path d="M 250.77 156.264219 L 258.57 156.264219 L 266.37 156.264219 " style="fill: none; stroke: #8e89c4; stroke-width: 1.17; stroke-linecap: square"/>
<g>
<use href="#md699ed63c8" x="258.57" y="156.264219" style="fill: #8e89c4; stroke: #8e89c4; stroke-width: 0.78"/>
</g>
</g>
<g id="text_25">
<text style="font-size: 7.8px; font-family: 'DejaVu Sans', 'Liberation Sans', sans-serif; text-anchor: start" transform="translate(272.30 158.89) scale(1 1.1)">rbd-s1</text>
</g>
</g>
</g>
<g id="axes_2">
<g id="patch_8">
<path d="M 382.7 207.3 L 660.55 207.3 L 660.55 0.35 L 382.7 0.35 z
" style="fill: #ffffff"/>
</g>
<g id="matplotlib.axis_3">
<g id="xtick_9">
<g id="line2d_47">
<path d="M 401 207.3 L 401 0.35 " clip-path="url(#pf0b43c6601)" style="fill: none; stroke: #b0b0b0; stroke-width: 0.624; stroke-linecap: square"/>
</g>
<g id="line2d_48">
<g>
<use href="#mf17a28b8bb" x="401" y="207.3" style="stroke: #000000; stroke-width: 0.624"/>
</g>
</g>
<g id="text_26">
<text style="font-size: 7.8px; font-family: 'DejaVu Sans', 'Liberation Sans', sans-serif; text-anchor: middle" transform="translate(401.00 219.54) scale(1 1.1)">100</text>
</g>
</g>
<g id="xtick_10">
<g id="line2d_49">
<path d="M 437.1 207.3 L 437.1 0.35 " clip-path="url(#pf0b43c6601)" style="fill: none; stroke: #b0b0b0; stroke-width: 0.624; stroke-linecap: square"/>
</g>
<g id="line2d_50">
<g>
<use href="#mf17a28b8bb" x="437.1" y="207.3" style="stroke: #000000; stroke-width: 0.624"/>
</g>
</g>
<g id="text_27">
<text style="font-size: 7.8px; font-family: 'DejaVu Sans', 'Liberation Sans', sans-serif; text-anchor: middle" transform="translate(437.10 219.54) scale(1 1.1)">200</text>
</g>
</g>
<g id="xtick_11">
<g id="line2d_51">
<path d="M 473.2 207.3 L 473.2 0.35 " clip-path="url(#pf0b43c6601)" style="fill: none; stroke: #b0b0b0; stroke-width: 0.624; stroke-linecap: square"/>
</g>
<g id="line2d_52">
<g>
<use href="#mf17a28b8bb" x="473.2" y="207.3" style="stroke: #000000; stroke-width: 0.624"/>
</g>
</g>
<g id="text_28">
<text style="font-size: 7.8px; font-family: 'DejaVu Sans', 'Liberation Sans', sans-serif; text-anchor: middle" transform="translate(473.20 219.54) scale(1 1.1)">300</text>
</g>
</g>
<g id="xtick_12">
<g id="line2d_53">
<path d="M 509.3 207.3 L 509.3 0.35 " clip-path="url(#pf0b43c6601)" style="fill: none; stroke: #b0b0b0; stroke-width: 0.624; stroke-linecap: square"/>
</g>
<g id="line2d_54">
<g>
<use href="#mf17a28b8bb" x="509.3" y="207.3" style="stroke: #000000; stroke-width: 0.624"/>
</g>
</g>
<g id="text_29">
<text style="font-size: 7.8px; font-family: 'DejaVu Sans', 'Liberation Sans', sans-serif; text-anchor: middle" transform="translate(509.30 219.54) scale(1 1.1)">400</text>
</g>
</g>
<g id="xtick_13">
<g id="line2d_55">
<path d="M 545.4 207.3 L 545.4 0.35 " clip-path="url(#pf0b43c6601)" style="fill: none; stroke: #b0b0b0; stroke-width: 0.624; stroke-linecap: square"/>
</g>
<g id="line2d_56">
<g>
<use href="#mf17a28b8bb" x="545.4" y="207.3" style="stroke: #000000; stroke-width: 0.624"/>
</g>
</g>
<g id="text_30">
<text style="font-size: 7.8px; font-family: 'DejaVu Sans', 'Liberation Sans', sans-serif; text-anchor: middle" transform="translate(545.40 219.54) scale(1 1.1)">500</text>
</g>
</g>
<g id="xtick_14">
<g id="line2d_57">
<path d="M 581.5 207.3 L 581.5 0.35 " clip-path="url(#pf0b43c6601)" style="fill: none; stroke: #b0b0b0; stroke-width: 0.624; stroke-linecap: square"/>
</g>
<g id="line2d_58">
<g>
<use href="#mf17a28b8bb" x="581.5" y="207.3" style="stroke: #000000; stroke-width: 0.624"/>
</g>
</g>
<g id="text_31">
<text style="font-size: 7.8px; font-family: 'DejaVu Sans', 'Liberation Sans', sans-serif; text-anchor: middle" transform="translate(581.50 219.54) scale(1 1.1)">600</text>
</g>
</g>
<g id="xtick_15">
<g id="line2d_59">
<path d="M 617.6 207.3 L 617.6 0.35 " clip-path="url(#pf0b43c6601)" style="fill: none; stroke: #b0b0b0; stroke-width: 0.624; stroke-linecap: square"/>
</g>
<g id="line2d_60">
<g>
<use href="#mf17a28b8bb" x="617.6" y="207.3" style="stroke: #000000; stroke-width: 0.624"/>
</g>
</g>
<g id="text_32">
<text style="font-size: 7.8px; font-family: 'DejaVu Sans', 'Liberation Sans', sans-serif; text-anchor: middle" transform="translate(617.60 219.54) scale(1 1.1)">700</text>
</g>
</g>
<g id="xtick_16">
<g id="line2d_61">
<path d="M 653.7 207.3 L 653.7 0.35 " clip-path="url(#pf0b43c6601)" style="fill: none; stroke: #b0b0b0; stroke-width: 0.624; stroke-linecap: square"/>
</g>
<g id="line2d_62">
<g>
<use href="#mf17a28b8bb" x="653.7" y="207.3" style="stroke: #000000; stroke-width: 0.624"/>
</g>
</g>
<g id="text_33">
<text style="font-size: 7.8px; font-family: 'DejaVu Sans', 'Liberation Sans', sans-serif; text-anchor: middle" transform="translate(653.70 219.54) scale(1 1.1)">800</text>
</g>
</g>
<g id="text_34">
<text style="font-size: 7.8px; font-family: 'DejaVu Sans', 'Liberation Sans', sans-serif; text-anchor: middle" transform="translate(521.62 230.21) scale(1 1.1)">non-influential factors</text>
</g>
</g>
<g id="matplotlib.axis_4">
<g id="ytick_6">
<g id="line2d_63">
<path d="M 382.7 180.5 L 660.55 180.5 " clip-path="url(#pf0b43c6601)" style="fill: none; stroke: #b0b0b0; stroke-width: 0.624; stroke-linecap: square"/>
</g>
<g id="line2d_64">
<g>
<use href="#m06048b6196" x="382.7" y="180.5" style="stroke: #000000; stroke-width: 0.624"/>
</g>
</g>
<g id="text_35">
<text style="font-size: 7.8px; font-family: 'DejaVu Sans', 'Liberation Sans', sans-serif; text-anchor: end" transform="translate(377.24 184.31) scale(1 1.1)">20</text>
</g>
</g>
<g id="ytick_7">
<g id="line2d_65">
<path d="M 382.7 136.95 L 660.55 136.95 " clip-path="url(#pf0b43c6601)" style="fill: none; stroke: #b0b0b0; stroke-width: 0.624; stroke-linecap: square"/>
</g>
<g id="line2d_66">
<g>
<use href="#m06048b6196" x="382.7" y="136.95" style="stroke: #000000; stroke-width: 0.624"/>
</g>
</g>
<g id="text_36">
<text style="font-size: 7.8px; font-family: 'DejaVu Sans', 'Liberation Sans', sans-serif; text-anchor: end" transform="translate(377.24 140.76) scale(1 1.1)">40</text>
</g>
</g>
<g id="ytick_8">
<g id="line2d_67">
<path d="M 382.7 93.4 L 660.55 93.4 " clip-path="url(#pf0b43c6601)" style="fill: none; stroke: #b0b0b0; stroke-width: 0.624; stroke-linecap: square"/>
</g>
<g id="line2d_68">
<g>
<use href="#m06048b6196" x="382.7" y="93.4" style="stroke: #000000; stroke-width: 0.624"/>
</g>
</g>
<g id="text_37">
<text style="font-size: 7.8px; font-family: 'DejaVu Sans', 'Liberation Sans', sans-serif; text-anchor: end" transform="translate(377.24 97.21) scale(1 1.1)">60</text>
</g>
</g>
<g id="ytick_9">
<g id="line2d_69">
<path d="M 382.7 49.85 L 660.55 49.85 " clip-path="url(#pf0b43c6601)" style="fill: none; stroke: #b0b0b0; stroke-width: 0.624; stroke-linecap: square"/>
</g>
<g id="line2d_70">
<g>
<use href="#m06048b6196" x="382.7" y="49.85" style="stroke: #000000; stroke-width: 0.624"/>
</g>
</g>
<g id="text_38">
<text style="font-size: 7.8px; font-family: 'DejaVu Sans', 'Liberation Sans', sans-serif; text-anchor: end" transform="translate(377.24 53.66) scale(1 1.1)">80</text>
</g>
</g>
<g id="ytick_10">
<g id="line2d_71">
<path d="M 382.7 6.3 L 660.55 6.3 " clip-path="url(#pf0b43c6601)" style="fill: none; stroke: #b0b0b0; stroke-width: 0.624; stroke-linecap: square"/>
</g>
<g id="line2d_72">
<g>
<use href="#m06048b6196" x="382.7" y="6.3" style="stroke: #000000; stroke-width: 0.624"/>
</g>
</g>
<g id="text_39">
<text style="font-size: 7.8px; font-family: 'DejaVu Sans', 'Liberation Sans', sans-serif; text-anchor: end" transform="translate(377.24 10.11) scale(1 1.1)">100</text>
</g>
</g>
<g id="text_40">
<text style="font-size: 7.8px; font-family: 'DejaVu Sans', 'Liberation Sans', sans-serif; text-anchor: middle" transform="translate(358.11 104.83) rotate(-90) scale(1 1.1)">accuracy (%)</text>
</g>
</g>
<g id="line2d_73">
<path d="M 395.585 149.36175 L 431.685 124.756 L 467.785 96.4485 L 503.885 82.29475 L 539.985 67.05225 L 576.085 60.08425 L 612.185 42.882 L 648.285 10.110625 " clip-path="url(#pf0b43c6601)" style="fill: none; stroke: #f34c36; stroke-width: 1.17; stroke-linecap: square"/>
<g clip-path="url(#pf0b43c6601)">
<use href="#mfd70a485a8" x="395.585" y="149.36175" style="fill: #f34c36; stroke: #f34c36; stroke-width: 0.78"/>
<use href="#mfd70a485a8" x="431.685" y="124.756" style="fill: #f34c36; stroke: #f34c36; stroke-width: 0.78"/>
<use href="#mfd70a485a8" x="467.785" y="96.4485" style="fill: #f34c36; stroke: #f34c36; stroke-width: 0.78"/>
<use href="#mfd70a485a8" x="503.885" y="82.29475" style="fill: #f34c36; stroke: #f34c36; stroke-width: 0.78"/>
<use href="#mfd70a485a8" x="539.985" y="67.05225" style="fill: #f34c36; stroke: #f34c36; stroke-width: 0.78"/>
<use href="#mfd70a485a8" x="576.085" y="60.08425" style="fill: #f34c36; stroke: #f34c36; stroke-width: 0.78"/>
<use href="#mfd70a485a8" x="612.185" y="42.882" style="fill: #f34c36; stroke: #f34c36; stroke-width: 0.78"/>
<use href="#mfd70a485a8" x="648.285" y="10.110625" style="fill: #f34c36; stroke: #f34c36; stroke-width: 0.78"/>
</g>
</g>
<g id="line2d_74">
<path d="M 395.585 197.4845 L 431.685 169.83025 L 467.785 150.66825 L 503.885 127.8045 L 539.985 84.03675 L 576.085 65.528 L 612.185 26.55075 L 648.285 10.110625 " clip-path="url(#pf0b43c6601)" style="fill: none; stroke: #c8151e; stroke-width: 1.17; stroke-linecap: square"/>
<g clip-path="url(#pf0b43c6601)">
<use href="#m19177e68ee" x="395.585" y="197.4845" style="fill: #c8151e; stroke: #c8151e; stroke-width: 0.78"/>
<use href="#m19177e68ee" x="431.685" y="169.83025" style="fill: #c8151e; stroke: #c8151e; stroke-width: 0.78"/>
<use href="#m19177e68ee" x="467.785" y="150.66825" style="fill: #c8151e; stroke: #c8151e; stroke-width: 0.78"/>
<use href="#m19177e68ee" x="503.885" y="127.8045" style="fill: #c8151e; stroke: #c8151e; stroke-width: 0.78"/>
<use href="#m19177e68ee" x="539.985" y="84.03675" style="fill: #c8151e; stroke: #c8151e; stroke-width: 0.78"/>
<use href="#m19177e68ee" x="576.085" y="65.528" style="fill: #c8151e; stroke: #c8151e; stroke-width: 0.78"/>
<use href="#m19177e68ee" x="612.185" y="26.55075" style="fill: #c8151e; stroke: #c8151e; stroke-width: 0.78"/>
<use href="#m19177e68ee" x="648.285" y="10.110625" style="fill: #c8151e; stroke: #c8151e; stroke-width: 0.78"/>
</g>
</g>
<g id="line2d_75">
<path d="M 395.585 199.00875 L 431.685 165.2575 L 467.785 158.07175 L 503.885 127.58675 L 539.985 83.819 L 576.085 65.31025 L 612.185 25.8975 L 648.285 10.110625 " clip-path="url(#pf0b43c6601)" style="fill: none; stroke: #67000d; stroke-width: 1.17; stroke-linecap: square"/>
<g clip-path="url(#pf0b43c6601)">
<use href="#m08d0aabdd7" x="395.585" y="199.00875" style="fill: #67000d; stroke: #67000d; stroke-width: 0.78"/>
<use href="#m08d0aabdd7" x="431.685" y="165.2575" style="fill: #67000d; stroke: #67000d; stroke-width: 0.78"/>
<use href="#m08d0aabdd7" x="467.785" y="158.07175" style="fill: #67000d; stroke: #67000d; stroke-width: 0.78"/>
<use href="#m08d0aabdd7" x="503.885" y="127.58675" style="fill: #67000d; stroke: #67000d; stroke-width: 0.78"/>
<use href="#m08d0aabdd7" x="539.985" y="83.819" style="fill: #67000d; stroke: #67000d; stroke-width: 0.78"/>
<use href="#m08d0aabdd7" x="576.085" y="65.31025" style="fill: #67000d; stroke: #67000d; stroke-width: 0.78"/>
<use href="#m08d0aabdd7" x="612.185" y="25.8975" style="fill: #67000d; stroke: #67000d; stroke-width: 0.78"/>
<use href="#m08d0aabdd7" x="648.285" y="10.110625" style="fill: #67000d; stroke: #67000d; stroke-width: 0.78"/>
</g>
</g>
<g id="line2d_76">
<path d="M 395.585 100.368 L 431.685 41.14 L 467.785 21.32475 L 503.885 20.45375 L 539.985 15.01 L 576.085 14.35675 L 612.185 12.397 L 648.285 10.110625 " clip-path="url(#pf0b43c6601)" style="fill: none; stroke: #9ecae1; stroke-width: 1.17; stroke-linecap: square"/>
<g clip-path="url(#pf0b43c6601)">
<use href="#md240ce2daa" x="395.585" y="100.368" style="fill: #9ecae1; stroke: #9ecae1; stroke-width: 0.78"/>
<use href="#md240ce2daa" x="431.685" y="41.14" style="fill: #9ecae1; stroke: #9ecae1; stroke-width: 0.78"/>
<use href="#md240ce2daa" x="467.785" y="21.32475" style="fill: #9ecae1; stroke: #9ecae1; stroke-width: 0.78"/>
<use href="#md240ce2daa" x="503.885" y="20.45375" style="fill: #9ecae1; stroke: #9ecae1; stroke-width: 0.78"/>
<use href="#md240ce2daa" x="539.985" y="15.01" style="fill: #9ecae1; stroke: #9ecae1; stroke-width: 0.78"/>
<use href="#md240ce2daa" x="576.085" y="14.35675" style="fill: #9ecae1; stroke: #9ecae1; stroke-width: 0.78"/>
<use href="#md240ce2daa" x="612.185" y="12.397" style="fill: #9ecae1; stroke: #9ecae1; stroke-width: 0.78"/>
<use href="#md240ce2daa" x="648.285" y="10.110625" style="fill: #9ecae1; stroke: #9ecae1; stroke-width: 0.78"/>
</g>
</g>
<g id="line2d_77">
<path d="M 395.585 192.694 L 431.685 178.3225 L 467.785 162.209 L 503.885 132.595 L 539.985 88.174 L 576.085 72.0605 L 612.185 28.946 L 648.285 10.110625 " clip-path="url(#pf0b43c6601)" style="fill: none; stroke: #4f9bcf; stroke-width: 1.17; stroke-linecap: square"/>
<g clip-path="url(#pf0b43c6601)">
<use href="#mb4e35021ed" x="395.585" y="192.694" style="fill: #4f9bcf; stroke: #4f9bcf; stroke-width: 0.78"/>
<use href="#mb4e35021ed" x="431.685" y="178.3225" style="fill: #4f9bcf; stroke: #4f9bcf; stroke-width: 0.78"/>
<use href="#mb4e35021ed" x="467.785" y="162.209" style="fill: #4f9bcf; stroke: #4f9bcf; stroke-width: 0.78"/>
<use href="#mb4e35021ed" x="503.885" y="132.595" style="fill: #4f9bcf; stroke: #4f9bcf; stroke-width: 0.78"/>
<use href="#mb4e35021ed" x="539.985" y="88.174" style="fill: #4f9bcf; stroke: #4f9bcf; stroke-width: 0.78"/>
<use href="#mb4e35021ed" x="576.085" y="72.0605" style="fill: #4f9bcf; stroke: #4f9bcf; stroke-width: 0.78"/>
<use href="#mb4e35021ed" x="612.185" y="28.946" style="fill: #4f9bcf; stroke: #4f9bcf; stroke-width: 0.78"/>
<use href="#mb4e35021ed" x="648.285" y="10.110625" style="fill: #4f9bcf; stroke: #4f9bcf; stroke-width: 0.78"/>
</g>
</g>
<g id="line2d_78">
<path d="M 395.585 195.96025 L 431.685 154.8055 L 467.785 150.015 L 503.885 117.57025 L 539.985 98.626 L 576.085 97.10175 L 612.185 26.11525 L 648.285 10.110625 " clip-path="url(#pf0b43c6601)" style="fill: none; stroke: #fd8d3c; stroke-width: 1.17; stroke-linecap: square"/>
<g clip-path="url(#pf0b43c6601)">
<use href="#m84660bfa3b" x="395.585" y="195.96025" style="fill: #fd8d3c; stroke: #fd8d3c; stroke-width: 0.78"/>
<use href="#m84660bfa3b" x="431.685" y="154.8055" style="fill: #fd8d3c; stroke: #fd8d3c; stroke-width: 0.78"/>
<use href="#m84660bfa3b" x="467.785" y="150.015" style="fill: #fd8d3c; stroke: #fd8d3c; stroke-width: 0.78"/>
<use href="#m84660bfa3b" x="503.885" y="117.57025" style="fill: #fd8d3c; stroke: #fd8d3c; stroke-width: 0.78"/>
<use href="#m84660bfa3b" x="539.985" y="98.626" style="fill: #fd8d3c; stroke: #fd8d3c; stroke-width: 0.78"/>
<use href="#m84660bfa3b" x="576.085" y="97.10175" style="fill: #fd8d3c; stroke: #fd8d3c; stroke-width: 0.78"/>
<use href="#m84660bfa3b" x="612.185" y="26.11525" style="fill: #fd8d3c; stroke: #fd8d3c; stroke-width: 0.78"/>
<use href="#m84660bfa3b" x="648.285" y="10.110625" style="fill: #fd8d3c; stroke: #fd8d3c; stroke-width: 0.78"/>
</g>
</g>
<g id="line2d_79">
<path d="M 395.585 171.57225 L 431.685 120.401 L 467.785 74.6735 L 503.885 50.50325 L 539.985 41.14 L 576.085 31.9945 L 612.185 20.6715 L 648.285 10.110625 " clip-path="url(#pf0b43c6601)" style="fill: none; stroke: #a1d99b; stroke-width: 1.17; stroke-linecap: square"/>
<g clip-path="url(#pf0b43c6601)">
<use href="#m37b35b74b8" x="395.585" y="171.57225" style="fill: #a1d99b; stroke: #a1d99b; stroke-width: 0.78"/>
<use href="#m37b35b74b8" x="431.685" y="120.401" style="fill: #a1d99b; stroke: #a1d99b; stroke-width: 0.78"/>
<use href="#m37b35b74b8" x="467.785" y="74.6735" style="fill: #a1d99b; stroke: #a1d99b; stroke-width: 0.78"/>
<use href="#m37b35b74b8" x="503.885" y="50.50325" style="fill: #a1d99b; stroke: #a1d99b; stroke-width: 0.78"/>
<use href="#m37b35b74b8" x="539.985" y="41.14" style="fill: #a1d99b; stroke: #a1d99b; stroke-width: 0.78"/>
<use href="#m37b35b74b8" x="576.085" y="31.9945" style="fill: #a1d99b; stroke: #a1d99b; stroke-width: 0.78"/>
<use href="#m37b35b74b8" x="612.185" y="20.6715" style="fill: #a1d99b; stroke: #a1d99b; stroke-width: 0.78"/>
<use href="#m37b35b74b8" x="648.285" y="10.110625" style="fill: #a1d99b; stroke: #a1d99b; stroke-width: 0.78"/>
</g>
</g>
<g id="line2d_80">
<path d="M 395.585 128.6755 L 431.685 73.58475 L 467.785 48.76125 L 503.885 31.559 L 539.985 20.45375 L 576.085 12.8325 L 612.185 12.17925 L 648.285 10.110625 " clip-path="url(#pf0b43c6601)" style="fill: none; stroke: #52b161; stroke-width: 1.17; stroke-linecap: square"/>
<g clip-path="url(#pf0b43c6601)">
<use href="#ma4fa406c6f" x="395.585" y="128.6755" style="fill: #52b161; stroke: #52b161; stroke-width: 0.78"/>
<use href="#ma4fa406c6f" x="431.685" y="73.58475" style="fill: #52b161; stroke: #52b161; stroke-width: 0.78"/>
<use href="#ma4fa406c6f" x="467.785" y="48.76125" style="fill: #52b161; stroke: #52b161; stroke-width: 0.78"/>
<use href="#ma4fa406c6f" x="503.885" y="31.559" style="fill: #52b161; stroke: #52b161; stroke-width: 0.78"/>
<use href="#ma4fa406c6f" x="539.985" y="20.45375" style="fill: #52b161; stroke: #52b161; stroke-width: 0.78"/>
<use href="#ma4fa406c6f" x="576.085" y="12.8325" style="fill: #52b161; stroke: #52b161; stroke-width: 0.78"/>
<use href="#ma4fa406c6f" x="612.185" y="12.17925" style="fill: #52b161; stroke: #52b161; stroke-width: 0.78"/>
<use href="#ma4fa406c6f" x="648.285" y="10.110625" style="fill: #52b161; stroke: #52b161; stroke-width: 0.78"/>
</g>
</g>
<g id="line2d_81">
<path d="M 395.585 138.47425 L 431.685 69.4475 L 467.785 41.79325 L 503.885 21.5425 L 539.985 13.7035 L 576.085 11.74375 L 612.185 10.655 L 648.285 10.110625 " clip-path="url(#pf0b43c6601)" style="fill: none; stroke: #c6c6c6; stroke-width: 1.17; stroke-linecap: square"/>
<defs>
<path id="m3d9b19dc07" d="M 0 2.34 C 0.620575 2.34 1.215817 2.093443 1.65463 1.65463 C 2.093443 1.215817 2.34 0.620575 2.34 0 C 2.34 -0.620575 2.093443 -1.215817 1.65463 -1.65463 C 1.215817 -2.093443 0.620575 -2.34 0 -2.34 C -0.620575 -2.34 -1.215817 -2.093443 -1.65463 -1.65463 C -2.093443 -1.215817 -2.34 -0.620575 -2.34 0 C -2.34 0.620575 -2.093443 1.215817 -1.65463 1.65463 C -1.215817 2.093443 -0.620575 2.34 0 2.34 z
" style="stroke: #c6c6c6; stroke-width: 0.78"/>
</defs>
<g clip-path="url(#pf0b43c6601)">
<use href="#m3d9b19dc07" x="395.585" y="138.47425" style="fill: #c6c6c6; stroke: #c6c6c6; stroke-width: 0.78"/>
<use href="#m3d9b19dc07" x="431.685" y="69.4475" style="fill: #c6c6c6; stroke: #c6c6c6; stroke-width: 0.78"/>
<use href="#m3d9b19dc07" x="467.785" y="41.79325" style="fill: #c6c6c6; stroke: #c6c6c6; stroke-width: 0.78"/>
<use href="#m3d9b19dc07" x="503.885" y="21.5425" style="fill: #c6c6c6; stroke: #c6c6c6; stroke-width: 0.78"/>
<use href="#m3d9b19dc07" x="539.985" y="13.7035" style="fill: #c6c6c6; stroke: #c6c6c6; stroke-width: 0.78"/>
<use href="#m3d9b19dc07" x="576.085" y="11.74375" style="fill: #c6c6c6; stroke: #c6c6c6; stroke-width: 0.78"/>
<use href="#m3d9b19dc07" x="612.185" y="10.655" style="fill: #c6c6c6; stroke: #c6c6c6; stroke-width: 0.78"/>
<use href="#m3d9b19dc07" x="648.285" y="10.110625" style="fill: #c6c6c6; stroke: #c6c6c6; stroke-width: 0.78"/>
</g>
</g>
<g id="line2d_82">
<path d="M 395.585 155.02325 L 431.685 85.34325 L 467.785 46.366 L 503.885 23.72 L 539.985 15.881 L 576.085 11.74375 L 612.185 10.87275 L 648.285 10.110625 " clip-path="url(#pf0b43c6601)" style="fill: none; stroke: #8e89c4; stroke-width: 1.17; stroke-linecap: square"/>
<g clip-path="url(#pf0b43c6601)">
<use href="#md699ed63c8" x="395.585" y="155.02325" style="fill: #8e89c4; stroke: #8e89c4; stroke-width: 0.78"/>
<use href="#md699ed63c8" x="431.685" y="85.34325" style="fill: #8e89c4; stroke: #8e89c4; stroke-width: 0.78"/>
<use href="#md699ed63c8" x="467.785" y="46.366" style="fill: #8e89c4; stroke: #8e89c4; stroke-width: 0.78"/>
<use href="#md699ed63c8" x="503.885" y="23.72" style="fill: #8e89c4; stroke: #8e89c4; stroke-width: 0.78"/>
<use href="#md699ed63c8" x="539.985" y="15.881" style="fill: #8e89c4; stroke: #8e89c4; stroke-width: 0.78"/>
<use href="#md699ed63c8" x="576.085" y="11.74375" style="fill: #8e89c4; stroke: #8e89c4; stroke-width: 0.78"/>
<use href="#md699ed63c8" x="612.185" y="10.87275" style="fill: #8e89c4; stroke: #8e89c4; stroke-width: 0.78"/>
<use href="#md699ed63c8" x="648.285" y="10.110625" style="fill: #8e89c4; stroke: #8e89c4; stroke-width: 0.78"/>
</g>
</g>
<g id="patch_9">
<path d="M 382.7 207.3 L 382.7 0.35 " style="fill: none; stroke: #000000; stroke-width: 0.624; stroke-linejoin: miter; stroke-linecap: square"/>
</g>
<g id="patch_10">
<path d="M 660.55 207.3 L 660.55 0.35 " style="fill: none; stroke: #000000; stroke-width: 0.624; stroke-linejoin: miter; stroke-linecap: square"/>
</g>
<g id="patch_11">
<path d="M 382.7 207.3 L 660.55 207.3 " style="fill: none; stroke: #000000; stroke-width: 0.624; stroke-linejoin: miter; stroke-linecap: square"/>
</g>
<g id="patch_12">
<path d="M 382.7 0.35 L 660.55 0.35 " style="fill: none; stroke: #000000; stroke-width: 0.624; stroke-linejoin: miter; stroke-linecap: square"/>
</g>
<g id="legend_2">
<g id="patch_13">
<path d="M 600.11 163.736375 L 682.911875 163.736375 Q 684.471875 163.736375 684.471875 162.176375 L 684.471875 46.01 Q 684.471875 44.45 682.911875 44.45 L 600.11 44.45 Q 598.55 44.45 598.55 46.01 L 598.55 162.176375 Q 598.55 163.736375 600.11 163.736375 z
" style="fill: #ffffff; opacity: 0.8; stroke: #cccccc; stroke-width: 0.78; stroke-linejoin: miter"/>
</g>
<g id="line2d_83">
<path d="M 601.67 50.766781 L 609.47 50.766781 L 617.27 50.766781 " style="fill: none; stroke: #f34c36; stroke-width: 1.17; stroke-linecap: square"/>
<g>
<use href="#mfd70a485a8" x="609.47" y="50.766781" style="fill: #f34c36; stroke: #f34c36; stroke-width: 0.78"/>
</g>
</g>
<g id="text_41">
<text style="font-size: 7.8px; font-family: 'DejaVu Sans', 'Liberation Sans', sans-serif; text-anchor: start" transform="translate(623.20 53.40) scale(1 1.1)">morris-mu</text>
</g>
<g id="line2d_84">
<path d="M 601.67 62.488719 L 609.47 62.488719 L 617.27 62.488719 " style="fill: none; stroke: #c8151e; stroke-width: 1.17; stroke-linecap: square"/>
<g>
<use href="#m19177e68ee" x="609.47" y="62.488719" style="fill: #c8151e; stroke: #c8151e; stroke-width: 0.78"/>
</g>
</g>
<g id="text_42">
<text style="font-size: 7.8px; font-family: 'DejaVu Sans', 'Liberation Sans', sans-serif; text-anchor: start" transform="translate(623.20 65.12) scale(1 1.1)">morris-mu-star</text>
</g>
<g id="line2d_85">
<path d="M 601.67 74.210656 L 609.47 74.210656 L 617.27 74.210656 " style="fill: none; stroke: #67000d; stroke-width: 1.17; stroke-linecap: square"/>
<g>
<use href="#m08d0aabdd7" x="609.47" y="74.210656" style="fill: #67000d; stroke: #67000d; stroke-width: 0.78"/>
</g>
</g>
<g id="text_43">
<text style="font-size: 7.8px; font-family: 'DejaVu Sans', 'Liberation Sans', sans-serif; text-anchor: start" transform="translate(623.20 76.84) scale(1 1.1)">morris-sigma</text>
</g>
<g id="line2d_86">
<path d="M 601.67 85.932594 L 609.47 85.932594 L 617.27 85.932594 " style="fill: none; stroke: #9ecae1; stroke-width: 1.17; stroke-linecap: square"/>
<g>
<use href="#md240ce2daa" x="609.47" y="85.932594" style="fill: #9ecae1; stroke: #9ecae1; stroke-width: 0.78"/>
</g>
</g>
<g id="text_44">
<text style="font-size: 7.8px; font-family: 'DejaVu Sans', 'Liberation Sans', sans-serif; text-anchor: start" transform="translate(623.20 88.56) scale(1 1.1)">sobol-s1</text>
</g>
<g id="line2d_87">
<path d="M 601.67 97.654531 L 609.47 97.654531 L 617.27 97.654531 " style="fill: none; stroke: #4f9bcf; stroke-width: 1.17; stroke-linecap: square"/>
<g>
<use href="#mb4e35021ed" x="609.47" y="97.654531" style="fill: #4f9bcf; stroke: #4f9bcf; stroke-width: 0.78"/>
</g>
</g>
<g id="text_45">
<text style="font-size: 7.8px; font-family: 'DejaVu Sans', 'Liberation Sans', sans-serif; text-anchor: start" transform="translate(623.20 100.28) scale(1 1.1)">sobol-sT</text>
</g>
<g id="line2d_88">
<path d="M 601.67 109.376469 L 609.47 109.376469 L 617.27 109.376469 " style="fill: none; stroke: #fd8d3c; stroke-width: 1.17; stroke-linecap: square"/>
<g>
<use href="#m84660bfa3b" x="609.47" y="109.376469" style="fill: #fd8d3c; stroke: #fd8d3c; stroke-width: 0.78"/>
</g>
</g>
<g id="text_46">
<text style="font-size: 7.8px; font-family: 'DejaVu Sans', 'Liberation Sans', sans-serif; text-anchor: start" transform="translate(623.20 112.01) scale(1 1.1)">dgsm-v</text>
</g>
<g id="line2d_89">
<path d="M 601.67 121.098406 L 609.47 121.098406 L 617.27 121.098406 " style="fill: none; stroke: #a1d99b; stroke-width: 1.17; stroke-linecap: square"/>
<g>
<use href="#m37b35b74b8" x="609.47" y="121.098406" style="fill: #a1d99b; stroke: #a1d99b; stroke-width: 0.78"/>
</g>
</g>
<g id="text_47">
<text style="font-size: 7.8px; font-family: 'DejaVu Sans', 'Liberation Sans', sans-serif; text-anchor: start" transform="translate(623.20 123.73) scale(1 1.1)">fast-s1</text>
</g>
<g id="line2d_90">
<path d="M 601.67 132.820344 L 609.47 132.820344 L 617.27 132.820344 " style="fill: none; stroke: #52b161; stroke-width: 1.17; stroke-linecap: square"/>
<g>
<use href="#ma4fa406c6f" x="609.47" y="132.820344" style="fill: #52b161; stroke: #52b161; stroke-width: 0.78"/>
</g>
</g>
<g id="text_48">
<text style="font-size: 7.8px; font-family: 'DejaVu Sans', 'Liberation Sans', sans-serif; text-anchor: start" transform="translate(623.20 135.45) scale(1 1.1)">fast-sT</text>
</g>
<g id="line2d_91">
<path d="M 601.67 144.542281 L 609.47 144.542281 L 617.27 144.542281 " style="fill: none; stroke: #c6c6c6; stroke-width: 1.17; stroke-linecap: square"/>
<g>
<use href="#m3d9b19dc07" x="609.47" y="144.542281" style="fill: #c6c6c6; stroke: #c6c6c6; stroke-width: 0.78"/>
</g>
</g>
<g id="text_49">
<text style="font-size: 7.8px; font-family: 'DejaVu Sans', 'Liberation Sans', sans-serif; text-anchor: start" transform="translate(623.20 147.17) scale(1 1.1)">delta-d</text>
</g>
<g id="line2d_92">
<path d="M 601.67 156.264219 L 609.47 156.264219 L 617.27 156.264219 " style="fill: none; stroke: #8e89c4; stroke-width: 1.17; stroke-linecap: square"/>
<g>
<use href="#md699ed63c8" x="609.47" y="156.264219" style="fill: #8e89c4; stroke: #8e89c4; stroke-width: 0.78"/>
</g>
</g>
<g id="text_50">
<text style="font-size: 7.8px; font-family: 'DejaVu Sans', 'Liberation Sans', sans-serif; text-anchor: start" transform="translate(623.20 158.89) scale(1 1.1)">rbd-s1</text>
</g>
</g>
</g>
</g>
<defs>
<clipPath id="p76b166e8db">
<rect x="31.45" y="0.35" width="278.15" height="206.95"/>
</clipPath>
<clipPath id="pf0b43c6601">
<rect x="382.7" y="0.35" width="277.85" height="206.95"/>
</clipPath>
</defs>
<text style="font-size: 16.5px; font-family: 'Liberation Serif', 'DejaVu Serif', serif; text-anchor: middle; letter-spacing: 0.5px" x="167.15" y="257.70">(a)</text>
<text style="font-size: 16.5px; font-family: 'Liberation Serif', 'DejaVu Serif', serif; text-anchor: middle; letter-spacing: 0.5px" x="517.95" y="257.70">(b)</text>
</svg>
</body></html>
